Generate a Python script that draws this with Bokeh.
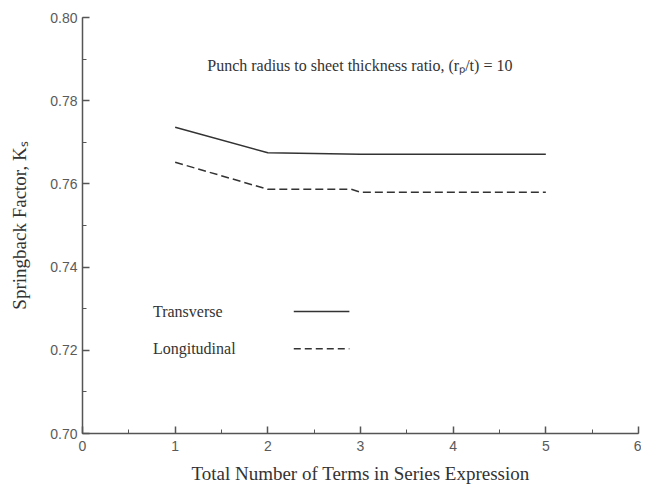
import numpy as np
from bokeh.plotting import figure
from bokeh.models import Label, Range1d, FixedTicker
from bokeh.embed import file_html
from bokeh.resources import INLINE

# Data
terms = [1, 2, 3, 4, 5]
transverse = [0.7736, 0.7675, 0.7671, 0.7671, 0.7671]
long_terms = [1, 2, 2.9, 3, 4, 5]
longitudinal = [0.7652, 0.7587, 0.7587, 0.7580, 0.7580, 0.7580]

x_ticks = [0, 1, 2, 3, 4, 5, 6]
y_ticks = [0.70, 0.72, 0.74, 0.76, 0.78, 0.80]

AX = "#555555"
INK = "#333333"
SERIF = "Liberation Serif"
SANS = "Liberation Sans"

p = figure(width=641, height=486, output_backend="svg", toolbar_location=None,
           x_range=Range1d(0, 6), y_range=Range1d(0.70, 0.80),
           min_border_left=82, min_border_right=3, min_border_top=17, min_border_bottom=52)
p.outline_line_color = None
p.grid.visible = False
p.background_fill_color = "white"

for ax, ticks in ((p.xaxis[0], x_ticks), (p.yaxis[0], y_ticks)):
    ax.ticker = FixedTicker(ticks=ticks, minor_ticks=list(np.arange(ticks[0], ticks[-1] + 1e-9, (ticks[1] - ticks[0]) / 2)))
    ax.axis_line_color = AX
    ax.axis_line_width = 1.5
    ax.major_tick_line_color = AX
    ax.minor_tick_line_color = AX
    ax.major_tick_line_width = 1.5
    ax.major_tick_in = 7
    ax.major_tick_out = 0
    ax.minor_tick_in = 4
    ax.minor_tick_out = 0
    ax.major_label_text_font = SANS
    ax.major_label_text_font_size = "14px"
    ax.major_label_text_color = "#5a5a5a"
    ax.axis_label_text_font = SERIF
    ax.axis_label_text_font_style = "normal"
    ax.axis_label_text_color = INK
    ax.axis_label_text_font_size = "19px"
p.yaxis[0].major_label_overrides = {t: f"{t:.2f}" for t in y_ticks}
p.yaxis[0].major_label_standoff = 5
p.xaxis[0].major_label_standoff = 7
p.xaxis[0].axis_label = "Total Number of Terms in Series Expression"
p.xaxis[0].axis_label_standoff = 9
p.yaxis[0].axis_label = "Springback Factor, K\u209b"
p.yaxis[0].axis_label_standoff = 17

# Data lines
p.line(terms, transverse, line_color=INK, line_width=1.5)
p.line(long_terms, longitudinal, line_color=INK, line_width=1.5, line_dash="8 4")

# Legend (label then sample)
p.add_layout(Label(x=0.76, y=0.7293, text="Transverse", text_font=SERIF, text_font_size="16px",
                   text_color=INK, text_baseline="middle"))
p.add_layout(Label(x=0.76, y=0.7204, text="Longitudinal", text_font=SERIF, text_font_size="16px",
                   text_color=INK, text_baseline="middle"))
p.line([2.28, 2.88], [0.7293, 0.7293], line_color=INK, line_width=1.5)
p.line([2.28, 2.88], [0.7204, 0.7204], line_color=INK, line_width=1.5, line_dash="7 4")

# Annotation
p.add_layout(Label(x=1.346, y=0.7885, text="Punch radius to sheet thickness ratio, (r\u209a/t) = 10",
                   text_font=SERIF, text_font_size="16px", text_color=INK, text_baseline="alphabetic"))

open("out.html", "w").write(file_html(p, INLINE))
